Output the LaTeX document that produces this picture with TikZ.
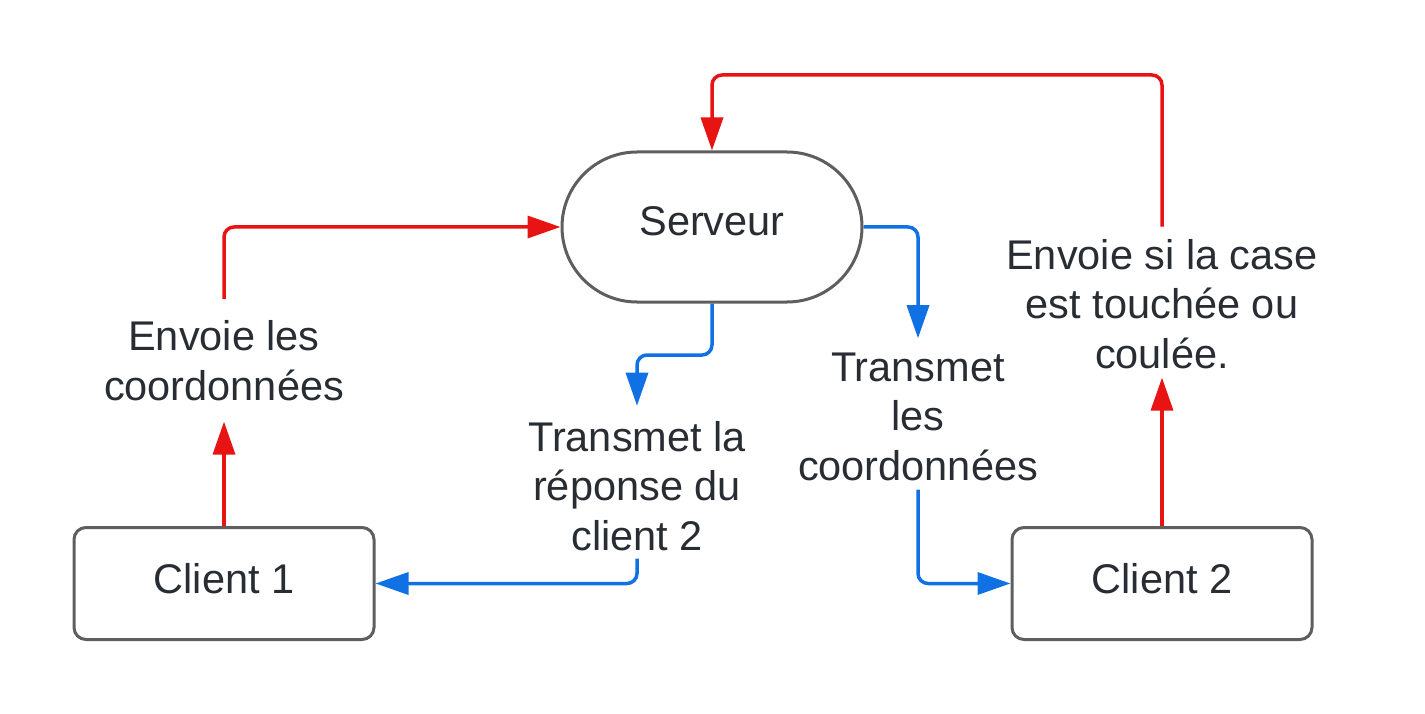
\documentclass[tikz,border=0pt]{standalone}
\usepackage{fontspec}
\setmainfont{Liberation Sans}
\usetikzlibrary{arrows.meta}
\definecolor{txt}{HTML}{282C33}
\definecolor{bord}{HTML}{5E5E5E}
\definecolor{lred}{HTML}{E81313}
\definecolor{lblue}{HTML}{1071E5}
\begin{document}
\begin{tikzpicture}[x=1pt,y=-1pt,
  every node/.style={text=txt,font=\fontsize{41.5}{49.5}\selectfont},
  box/.style={draw=bord,line width=3pt,fill=white,minimum width=300pt,minimum height=112pt,rounded corners=12pt,inner sep=0pt,text depth=11pt},
  pill/.style={draw=bord,line width=3pt,fill=white,minimum width=300pt,minimum height=150pt,rounded corners=75pt,inner sep=0pt,text depth=11pt},
  lbl/.style={align=center,inner sep=0pt,anchor=base},
  redarr/.style={draw=lred,line width=3.5pt,rounded corners=10pt,-{Triangle[length=33pt,width=22pt]}},
  bluearr/.style={draw=lblue,line width=3.5pt,rounded corners=10pt,-{Triangle[length=33pt,width=22pt]}}
]
\useasboundingbox (0,0) rectangle (1425,714);
\node[pill] (srv) at (712,227) {Serveur};
\node[box] (c1) at (224,583.5) {Client 1};
\node[box] (c2) at (1162,583.5) {Client 2};
\node[lbl] (l1) at (224,400) {Envoie les\\coordonnées};
\node[lbl] (l2) at (637,550) {Transmet la\\réponse du\\client 2};
\node[lbl] (l3) at (918,480) {Transmet\\les\\coordonnées};
\node[lbl] (l4) at (1162,368) {Envoie si la case\\est touchée ou\\coulée.};
% red
\draw[redarr] (c1.north) -- ([yshift=-21pt]l1.south);
\draw[redarr] ([yshift=21pt]l1.north) |- (srv.west);
\draw[redarr] (c2.north) -- ([yshift=-9pt]l4.south);
\draw[redarr] ([yshift=12pt]l4.north) -- (1162,75) -| (srv.north);
% blue
\draw[bluearr] (srv.south) -- (712,355) -| ([yshift=15pt]l2.north);
\draw[bluearr] ([yshift=-8pt]l2.south) |- (c1.east);
\draw[bluearr] (srv.east) -| ([yshift=14pt]l3.north);
\draw[bluearr] ([yshift=-9pt]l3.south) |- (c2.west);
\end{tikzpicture}
\end{document}
